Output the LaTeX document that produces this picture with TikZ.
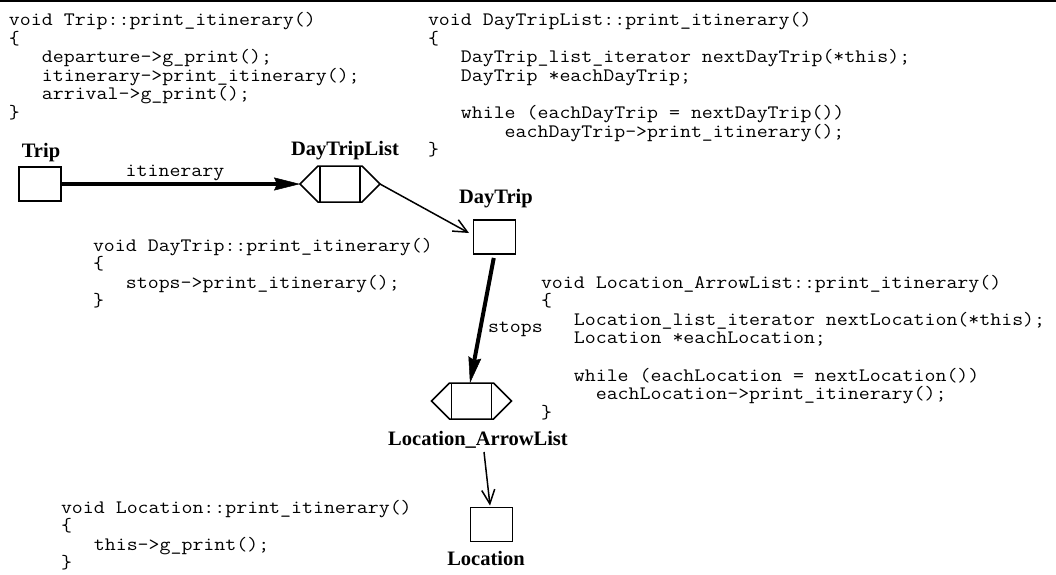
\documentclass[tikz,border=0pt]{standalone}
\usepackage{fontspec}
\usetikzlibrary{arrows.meta}
\newfontfamily\labfont{Liberation Serif}
\newcommand\codefont{\ttfamily\fontsize{19}{18.6}\selectfont}
\newcommand\labelfont{\labfont\bfseries\fontsize{20.5}{24}\selectfont}
\newcommand\codeblock[1]{\scalebox{1.12}[1]{\vtop{\codefont\baselineskip=18.6pt\lineskiplimit=-100pt\lineskip=0pt\relax #1}}}
\newcommand\mono[1]{\scalebox{1.12}[1]{\codefont #1}}
\newcommand\ind{\hphantom{xxx}}
\newcommand\hexdeco[1]{%
  \draw[shapeline, line join=miter] (#1.west) -- ([xshift=18pt]#1.north west) -- ([xshift=-18pt]#1.north east)
     -- (#1.east) -- ([xshift=-18pt]#1.south east) -- ([xshift=18pt]#1.south west) -- cycle;
  \draw[shapeline] ([xshift=20pt]#1.north west) -- ([xshift=20pt]#1.south west)
                   ([xshift=-20pt]#1.north east) -- ([xshift=-20pt]#1.south east);}
\tikzset{
  shapeline/.style={line width=1.5pt},
  box/.style={draw, line width=1.5pt, minimum width=42pt, minimum height=34pt, inner sep=0pt, outer sep=0pt},
  hexnode/.style={minimum width=80pt, minimum height=36pt, inner sep=0pt, outer sep=0pt},
  thickarrow/.style={line width=4pt, -{Stealth[length=26pt,width=13pt,inset=3pt,line width=0.5pt]}},
  thinarrow/.style={line width=1.5pt, -{Straight Barb[length=14pt,width=13pt]}},
  code/.style={inner sep=0pt, outer sep=0pt, anchor=base west},
  monolab/.style={inner sep=0pt, outer sep=0pt},
  lab/.style={inner sep=0pt, outer sep=0pt, anchor=base, font=\labelfont},
}
\begin{document}
\begin{tikzpicture}[x=1pt,y=-1pt]
\useasboundingbox (0,0) rectangle (1056,574);
\draw[line width=2.4pt] (0,1.2) -- (1056,1.2);

% code blocks
\node[code] (tripcode) at (9,25.5) {\codeblock{%
  \hbox{void Trip::print\_itinerary()}
  \hbox{\{}
  \hbox{\ind departure->g\_print();}
  \hbox{\ind itinerary->print\_itinerary();}
  \hbox{\ind arrival->g\_print();}
  \hbox{\}}}};
\node[code] (dtlcode) at (428,25.5) {\codeblock{%
  \hbox{void DayTripList::print\_itinerary()}
  \hbox{\{}
  \hbox{\ind DayTrip\_list\_iterator nextDayTrip(*this);}
  \hbox{\ind DayTrip *eachDayTrip;}
  \hbox{}
  \hbox{\ind while (eachDayTrip = nextDayTrip())}
  \hbox{\ind\hphantom{xxxx}eachDayTrip->print\_itinerary();}
  \hbox{\}}}};
\node[code] (dtcode) at (93,251) {\codeblock{%
  \hbox{void DayTrip::print\_itinerary()}
  \hbox{\{}
  \hbox{\ind stops->print\_itinerary();}
  \hbox{\}}}};
\node[code] (lalcode) at (541,288) {\codeblock{%
  \hbox{void Location\_ArrowList::print\_itinerary()}
  \hbox{\{}
  \hbox{\ind Location\_list\_iterator nextLocation(*this);}
  \hbox{\ind Location *eachLocation;}
  \hbox{}
  \hbox{\ind while (eachLocation = nextLocation())}
  \hbox{\ind\hphantom{xx}eachLocation->print\_itinerary();}
  \hbox{\}}}};
\node[code] (loccode) at (61,513) {\codeblock{%
  \hbox{void Location::print\_itinerary()}
  \hbox{\{}
  \hbox{\ind this->g\_print();}
  \hbox{\}}}};

% objects
\node[box] (trip) at (40,184) {};
\node[lab] (triplab) at (41,157) {Trip};
\node[hexnode] (dtl) at (340,184) {};
\hexdeco{dtl}
\node[lab] (dtllab) at (345,155) {DayTripList};
\node[box] (dt) at (494.5,237) {};
\node[lab] (dtlab) at (496,203) {DayTrip};
\node[hexnode] (lal) at (471.5,401) {};
\hexdeco{lal}
\node[lab] (lallab) at (478,445) {Location\_ArrowList};
\node[box] (loc) at (491.5,524.5) {};
\node[lab] (loclab) at (486,565) {Location};

% connectors
\draw[thickarrow] (trip.east) -- (dtl.west);
\node[monolab, anchor=base] (itlab) at (175,176) {\mono{itinerary}};
\draw[thinarrow] (dtl.east) -- ([xshift=-4.5pt,yshift=4pt]dt.west);
\draw[thickarrow, shorten <=4pt] (dt.south) -- ([xshift=-1.5pt]lal.north);
\node[monolab, anchor=base west] (stopslab) at (488,332.5) {\mono{stops}};
\draw[thinarrow] ([xshift=6pt,yshift=-7pt]lallab.base) -- ([xshift=-1.5pt,yshift=2pt]loc.north);
\end{tikzpicture}
\end{document}
